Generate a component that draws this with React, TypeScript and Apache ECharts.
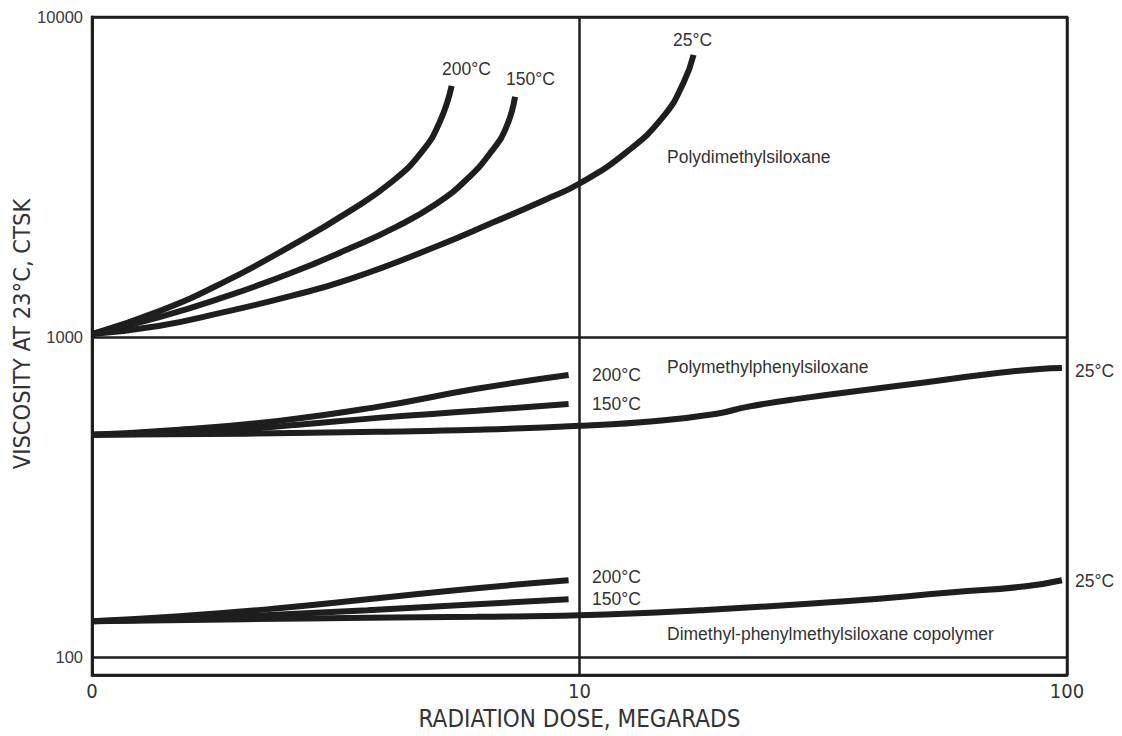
import React, { useEffect, useRef } from "react";
import * as echarts from "echarts";

// Radiation dose (megarads), "0" label sits at dose 1 of the log scale
const xTickLabels = ["0", "10", "100"];
const yTickLabels = ["100", "1000", "10000"];

// Polydimethylsiloxane
const pdmsDose200 = [1, 1.375, 1.864, 2.551, 3.345, 4.129, 4.752, 5.17, 5.467];
const pdmsVisc200 = [1022, 1205, 1484, 1921, 2452, 3062, 3797, 4709, 6095];
const pdmsDose150 = [1, 1.375, 1.864, 2.551, 3.345, 4.227, 5.097, 5.867, 6.594, 7.071, 7.376];
const pdmsVisc150 = [1022, 1154, 1332, 1582, 1880, 2217, 2615, 3106, 3797, 4511, 5634];
const pdmsDose25 = [1, 1.368, 1.864, 2.551, 3.377, 5.098, 6.657, 8.529, 10, 12.45, 14.85, 16.34, 17.14];
const pdmsVisc25 = [1022, 1082, 1196, 1342, 1516, 1921, 2282, 2691, 3018, 3770, 4881, 6228, 7613];

// Polymethylphenylsiloxane
const pmpsDose200 = [1, 1.51, 2.411, 3.85, 6.147, 9.498];
const pmpsVisc200 = [495, 513, 547, 605, 689, 761];
const pmpsDose150 = [1, 1.658, 2.647, 3.85, 6.147, 9.498];
const pmpsVisc150 = [495, 506, 532, 559, 588, 618];
const pmpsDose25 = [1, 2.066, 3.85, 6.147, 10, 14.37, 19.12, 22.07, 28.01, 45.11, 72.67, 87.94, 97.63];
const pmpsVisc25 = [495, 499, 506, 513, 528, 547, 576, 605, 641, 704, 773, 795, 801];

// Dimethyl-phenylmethylsiloxane copolymer
const copDose200 = [1, 1.51, 2.411, 3.85, 6.147, 9.498];
const copVisc200 = [129.5, 134.2, 142.1, 152.7, 164.1, 173.8];
const copDose150 = [1, 1.658, 2.49, 3.673, 6.147, 9.498];
const copVisc150 = [129.5, 132.3, 136.1, 140.1, 146.3, 151.6];
const copDose25 = [1, 2.066, 3.673, 6.147, 10, 17.64, 35.04, 58.34, 82.27, 97.63];
const copVisc25 = [129.5, 131.3, 132.7, 133.7, 135.1, 140.1, 149.4, 159.4, 166.4, 173.8];

const zip = (xs: number[], ys: number[]) => xs.map((x, i) => [x, ys[i]]);

const curves = [
  zip(pdmsDose200, pdmsVisc200),
  zip(pdmsDose150, pdmsVisc150),
  zip(pdmsDose25, pdmsVisc25),
  zip(pmpsDose200, pmpsVisc200),
  zip(pmpsDose150, pmpsVisc150),
  zip(pmpsDose25, pmpsVisc25),
  zip(copDose200, copVisc200),
  zip(copDose150, copVisc150),
  zip(copDose25, copVisc25),
];

const INK = "#1e1e1e";
const TEXT = "#333";
const ANN_FONT = "17.5px 'Liberation Sans', Arial, sans-serif";
const NARROW = "'Liberation Sans Narrow', 'DejaVu Sans Condensed', sans-serif";
const Y_TITLE = "VISCOSITY AT 23°C, CTSK";
const X_TITLE = "RADIATION DOSE, MEGARADS";

const annotations: [string, number, number][] = [
  ["200°C", 442, 69],
  ["150°C", 506, 79],
  ["25°C", 673, 40],
  ["Polydimethylsiloxane", 667, 157],
  ["Polymethylphenylsiloxane", 667, 367],
  ["200°C", 592, 375],
  ["150°C", 592, 404],
  ["25°C", 1075, 371],
  ["200°C", 592, 577],
  ["150°C", 592, 599],
  ["25°C", 1075, 581],
  ["Dimethyl-phenylmethylsiloxane copolymer", 667, 634],
];

export default function App() {
  const ref = useRef<HTMLDivElement>(null);
  useEffect(() => {
    if (!ref.current) return;
    const chart = echarts.init(ref.current, undefined, { renderer: "svg" });
    const isPow10 = (v: number) => {
      const l = Math.log10(v);
      return Math.abs(l - Math.round(l)) < 1e-6;
    };
    chart.setOption({
      animation: false,
      backgroundColor: "#fff",
      grid: {
        left: 92,
        right: 55,
        top: 17,
        bottom: 59,
        show: true,
        borderColor: INK,
        borderWidth: 2.5,
      },
      xAxis: {
        type: "log",
        logBase: 10,
        min: 1,
        max: 100,
        name: X_TITLE,
        nameLocation: "middle",
        nameGap: 32,
        nameTextStyle: { fontFamily: NARROW, fontSize: 24, color: TEXT },
        axisLine: { show: true, lineStyle: { color: INK, width: 2.5 } },
        axisTick: { show: false },
        axisLabel: {
          margin: 6,
          fontFamily: NARROW,
          fontSize: 20,
          color: TEXT,
          formatter: (v: number) => {
            const i = Math.round(Math.log10(v));
            return isPow10(v) ? xTickLabels[i] ?? "" : "";
          },
        },
        splitLine: { show: true, lineStyle: { color: INK, width: 2.5 } },
        minorSplitLine: { show: false },
      },
      yAxis: {
        type: "log",
        logBase: 10,
        min: 87.9,
        max: 10000,
        axisLine: { show: true, lineStyle: { color: INK, width: 3 } },
        axisTick: { show: false },
        axisLabel: {
          margin: 9,
          fontFamily: "'Liberation Sans', Arial, sans-serif",
          fontSize: 16.5,
          color: "#3a3a3a",
          formatter: (v: number) => {
            if (!isPow10(v)) return "";
            const i = Math.round(Math.log10(v)) - 2;
            return yTickLabels[i] ?? "";
          },
        },
        splitLine: { show: true, lineStyle: { color: INK, width: 2.5 } },
      },
      series: curves.map((d) => ({
        type: "line",
        data: d,
        smooth: 0.5,
        showSymbol: false,
        symbol: "none",
        lineStyle: { color: INK, width: 6, cap: "butt" },
        silent: true,
      })),
      graphic: [
        {
          type: "text",
          x: 22,
          y: 334,
          rotation: Math.PI / 2,
          style: {
            text: Y_TITLE,
            font: `23.5px ${NARROW}`,
            fill: TEXT,
            align: "center",
            verticalAlign: "middle",
          },
        },
        ...annotations.map(([text, x, y]) => ({
          type: "text",
          x,
          y,
          style: {
            text,
            font: ANN_FONT,
            fill: TEXT,
            verticalAlign: "middle",
          },
        })),
      ],
    });
    return () => chart.dispose();
  }, []);
  return (
    <div
      ref={ref}
      style={{ position: "fixed", left: 0, top: 0, width: 1122, height: 736, background: "#fff" }}
    />
  );
}
